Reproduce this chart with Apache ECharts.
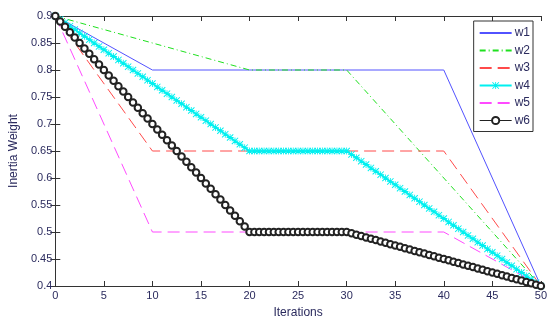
<!DOCTYPE html>
<html><head><meta charset="utf-8">
<script src="https://cdn.jsdelivr.net/npm/echarts@6/dist/echarts.min.js"></script>
<style>html,body{margin:0;padding:0;background:#fff}#c{width:550px;height:324px}</style>
</head><body><div id="c"></div>
<script>
var xTicks = [0,5,10,15,20,25,30,35,40,45,50];
var yTicks = [0.4,0.45,0.5,0.55,0.6,0.65,0.7,0.75,0.8,0.85,0.9];
var seriesNames = ['w1','w2','w3','w4','w5','w6'];
// breakpoint series [iteration, weight]
var w1 = [[0,0.9],[10,0.8],[40,0.8],[50,0.4]];
var w2 = [[0,0.9],[20,0.8],[30,0.8],[50,0.4]];
var w3 = [[0,0.9],[10,0.65],[40,0.65],[50,0.4]];
var w5 = [[0,0.9],[10,0.5],[40,0.5],[50,0.4]];
// marker series sampled every half iteration
var iters = [0,0.5,1,1.5,2,2.5,3,3.5,4,4.5,5,5.5,6,6.5,7,7.5,8,8.5,9,9.5,10,10.5,11,11.5,12,12.5,13,13.5,14,14.5,15,15.5,16,16.5,17,17.5,18,18.5,19,19.5,20,
  20.5,21,21.5,22,22.5,23,23.5,24,24.5,25,25.5,26,26.5,27,27.5,28,28.5,29,29.5,30,
  30.5,31,31.5,32,32.5,33,33.5,34,34.5,35,35.5,36,36.5,37,37.5,38,38.5,39,39.5,40,40.5,41,41.5,42,42.5,43,43.5,44,44.5,45,45.5,46,46.5,47,47.5,48,48.5,49,49.5,50];
var w4 = [0.9,0.89375,0.8875,0.88125,0.875,0.86875,0.8625,0.85625,0.85,0.84375,0.8375,0.83125,0.825,0.81875,0.8125,0.80625,0.8,0.79375,0.7875,0.78125,0.775,0.76875,0.7625,0.75625,0.75,0.74375,0.7375,0.73125,0.725,0.71875,0.7125,0.70625,0.7,0.69375,0.6875,0.68125,0.675,0.66875,0.6625,0.65625,0.65,
  0.65,0.65,0.65,0.65,0.65,0.65,0.65,0.65,0.65,0.65,0.65,0.65,0.65,0.65,0.65,0.65,0.65,0.65,0.65,0.65,
  0.64375,0.6375,0.63125,0.625,0.61875,0.6125,0.60625,0.6,0.59375,0.5875,0.58125,0.575,0.56875,0.5625,0.55625,0.55,0.54375,0.5375,0.53125,0.525,0.51875,0.5125,0.50625,0.5,0.49375,0.4875,0.48125,0.475,0.46875,0.4625,0.45625,0.45,0.44375,0.4375,0.43125,0.425,0.41875,0.4125,0.40625,0.4];
var w6 = [0.9,0.89,0.88,0.87,0.86,0.85,0.84,0.83,0.82,0.81,0.8,0.79,0.78,0.77,0.76,0.75,0.74,0.73,0.72,0.71,0.7,0.69,0.68,0.67,0.66,0.65,0.64,0.63,0.62,0.61,0.6,0.59,0.58,0.57,0.56,0.55,0.54,0.53,0.52,0.51,0.5,
  0.5,0.5,0.5,0.5,0.5,0.5,0.5,0.5,0.5,0.5,0.5,0.5,0.5,0.5,0.5,0.5,0.5,0.5,0.5,0.5,
  0.4975,0.495,0.4925,0.49,0.4875,0.485,0.4825,0.48,0.4775,0.475,0.4725,0.47,0.4675,0.465,0.4625,0.46,0.4575,0.455,0.4525,0.45,0.4475,0.445,0.4425,0.44,0.4375,0.435,0.4325,0.43,0.4275,0.425,0.4225,0.42,0.4175,0.415,0.4125,0.41,0.4075,0.405,0.4025,0.4];

function pair(vals){ return vals.map(function(v,i){ return [iters[i],v]; }); }
var labCol = '#2b2b5e';
var star = 'path://M4.4,0L5.6,0L5.6,4.4L10,4.4L10,5.6L5.6,5.6L5.6,10L4.4,10L4.4,5.6L0,5.6L0,4.4L4.4,4.4Z M1,0L10,9L9,10L0,1Z M9,0L10,1L1,10L0,9Z';
var chart = echarts.init(document.getElementById('c'), null, {renderer:'canvas'});
var axLine = {lineStyle:{color:'#333',width:1}};
var tick = {inside:true,length:5,lineStyle:{color:'#333'}};
var hide = {opacity:0};
chart.setOption({
  animation:false,
  grid:{left:45,right:7,top:16,bottom:36},
  legend:{
    data:[{name:'w1',itemStyle:hide},{name:'w2',itemStyle:hide},{name:'w3',itemStyle:hide},
      {name:'w4',lineStyle:{width:2}},{name:'w5',itemStyle:hide},{name:'w6',lineStyle:{width:1}}],
    orient:'vertical', right:17, top:21,
    backgroundColor:'#fff', borderColor:'#333', borderWidth:1, borderRadius:0,
    padding:[6,3,5,5], itemGap:5.5, itemWidth:32, itemHeight:9,
    textStyle:{fontFamily:'Liberation Sans', fontSize:12, color:labCol, padding:[0,0,0,-2]}
  },
  xAxis:[{
    type:'value', min:0, max:50, interval:5, name:'Iterations', nameLocation:'middle', nameGap:21,
    nameTextStyle:{fontFamily:'Liberation Sans', fontSize:12, color:labCol},
    axisLine:axLine, axisTick:tick,
    axisLabel:{fontFamily:'Liberation Sans', fontSize:11, color:labCol, margin:4},
    splitLine:{show:false}
  },{
    type:'value', min:0, max:50, interval:5, position:'top',
    axisLine:axLine, axisTick:tick,
    axisLabel:{show:false}, splitLine:{show:false}
  }],
  yAxis:[{
    type:'value', min:0.4, max:0.9, interval:0.05, name:'Inertia Weight', nameLocation:'middle', nameGap:33,
    nameTextStyle:{fontFamily:'Liberation Sans', fontSize:12, color:labCol},
    axisLine:axLine, axisTick:tick,
    axisLabel:{fontFamily:'Liberation Sans', fontSize:11, color:labCol, margin:3,
      formatter:function(v){ return String(Math.round(v*100)/100); }},
    splitLine:{show:false}
  },{
    type:'value', min:0.4, max:0.9, interval:0.05, position:'right',
    axisLine:axLine, axisTick:tick,
    axisLabel:{show:false}, splitLine:{show:false}
  }],
  series:[
    {name:'w1', type:'line', data:w1, symbol:'none', color:'#5252ff', lineStyle:{width:1, color:'#5252ff'}},
    {name:'w2', type:'line', data:w2, symbol:'none', color:'#1fe01f', lineStyle:{width:1, color:'#1fe01f', type:[6,3,1,3]}},
    {name:'w3', type:'line', data:w3, symbol:'none', color:'#ff4a4a', lineStyle:{width:1, color:'#ff4a4a', type:[12,6]}},
    {name:'w4', type:'line', data:pair(w4), symbol:star, symbolSize:7, showAllSymbol:true,
      color:'#00f0f0', itemStyle:{color:'#00f0f0'}, lineStyle:{width:1.5, color:'#00f0f0'}},
    {name:'w5', type:'line', data:w5, symbol:'none', color:'#ff4aff', lineStyle:{width:1, color:'#ff4aff', type:[12,6]}},
    {name:'w6', type:'line', data:pair(w6), symbol:'emptyCircle', symbolSize:6.5, showAllSymbol:true, color:'#222',
      itemStyle:{color:'#222', borderColor:'#222', borderWidth:1}, lineStyle:{width:1, color:'#222'}}
  ]
});
</script></body></html>
